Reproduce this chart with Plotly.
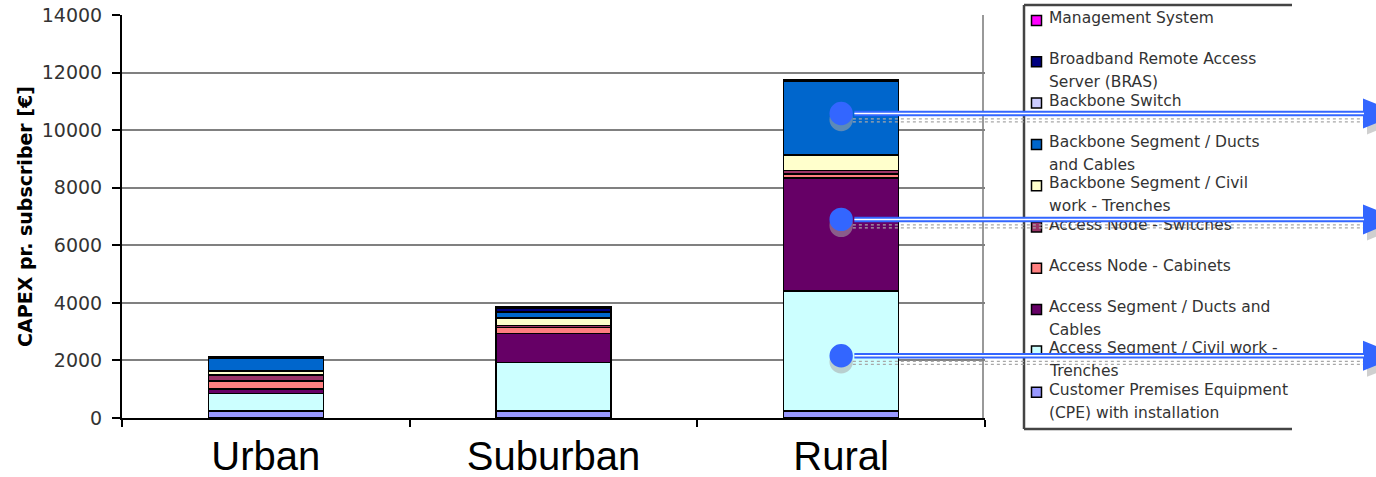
import plotly.graph_objects as go

# ---------------------------------------------------------------------------
# Data: CAPEX per subscriber (EUR) by deployment area, stacked bottom -> top
# ---------------------------------------------------------------------------
regions = ["Urban", "Suburban", "Rural"]

components = [
    "Customer Premises Equipment<br>(CPE) with installation",
    "Access Segment / Civil work -<br>Trenches",
    "Access Segment / Ducts and<br>Cables",
    "Access Node - Cabinets",
    "Access Node - Switches",
    "Backbone Segment / Civil<br>work - Trenches",
    "Backbone Segment / Ducts<br>and Cables",
    "Backbone Switch",
    "Broadband Remote Access<br>Server (BRAS)",
    "Management System",
]

cpe = [250, 250, 250]
access_civil = [600, 1680, 4170]
access_ducts = [160, 1000, 3920]
node_cabinets = [280, 220, 140]
node_switches = [200, 60, 110]
backbone_civil = [150, 260, 540]
backbone_ducts = [450, 200, 2560]
backbone_switch = [10, 30, 20]
bras = [10, 120, 20]
management = [10, 30, 20]

series = [cpe, access_civil, access_ducts, node_cabinets, node_switches,
          backbone_civil, backbone_ducts, backbone_switch, bras, management]

colors = ["#9999FF", "#CCFFFF", "#660066", "#FF8080", "#993366",
          "#FFFFCC", "#0066CC", "#CCCCFF", "#000080", "#FF00FF"]

y_ticks = [0, 2000, 4000, 6000, 8000, 10000, 12000, 14000]
y_tick_labels = ["0", "2000", "4000", "6000", "8000", "10000", "12000", "14000"]
y_max = 14000

# levels (EUR) inside the rural bar where the call-out arrows start
callout_levels = [10580, 6900, 2160]

# ---------------------------------------------------------------------------
# Geometry helpers (figure pixels -> paper coordinates)
# ---------------------------------------------------------------------------
W, H = 1376, 477
PL, PR, PT, PB = 122, 985, 15, 418


def px_x(p):
    return (p - PL) / (PR - PL)


def px_y(p):
    return (PB - p) / (PB - PT)


def dx(p):
    return p / (PR - PL)


def dy(p):
    return p / (PB - PT)


TEXT = "#333333"
FONT = "DejaVu Sans"

fig = go.Figure()
for name, vals, col in zip(components, series, colors):
    fig.add_trace(go.Bar(
        x=regions, y=vals, name=name.replace("<br>", " "),
        marker=dict(color=col, line=dict(color="black", width=1.5)),
        width=0.4, showlegend=False,
    ))

shapes = []
annotations = []

# right frame of the plot area
shapes.append(dict(type="line", xref="paper", yref="paper", x0=px_x(983), x1=px_x(983), y0=0, y1=1,
                   line=dict(color="#777777", width=1.5), layer="below"))

# ---------------------------------------------------------------------------
# Legend box (drawn by hand so the wrapped labels keep their spacing)
# ---------------------------------------------------------------------------
box_l, box_r, box_t, box_b = 1024, 1292, 5, 429
for (x0, y0, x1, y1) in [(box_l, box_t, box_r, box_t), (box_l, box_t, box_l, box_b),
                         (box_l, box_b, box_r, box_b)]:
    shapes.append(dict(type="line", xref="paper", yref="paper",
                       x0=px_x(x0), y0=px_y(y0), x1=px_x(x1), y1=px_y(y1),
                       line=dict(color="#444444", width=2.5)))

legend_top = 18.0
legend_pitch = 41.3
line_gap = 23.0
order = list(range(len(components)))[::-1]
for i, idx in enumerate(order):
    yc = legend_top + i * legend_pitch
    sy = yc + 2.5
    shapes.append(dict(type="rect", xref="paper", yref="paper",
                       x0=px_x(1031.5), x1=px_x(1041.5), y0=px_y(sy - 5), y1=px_y(sy + 5),
                       fillcolor=colors[idx], line=dict(color="black", width=1.5)))
    for j, line in enumerate(components[idx].split("<br>")):
        annotations.append(dict(
            text=line, xref="paper", yref="paper", x=px_x(1047), y=px_y(yc + j * line_gap),
            xanchor="left", yanchor="middle", showarrow=False,
            font=dict(family=FONT, size=15.5, color=TEXT),
        ))

# ---------------------------------------------------------------------------
# Call-out arrows leaving the rural bar
# ---------------------------------------------------------------------------
BLUE = "#3366FF"
SHADOW = "#a8a8a8"
cx = (regions.index("Rural") + 0.5) / len(regions)   # category centre in paper units
r = 11.7
end_px = 1363
head_len, head_half = 37, 15
for lvl in callout_levels:
    cy = lvl / y_max
    x_end = px_x(end_px)
    # drop shadow
    shapes.append(dict(type="circle", xref="paper", yref="paper",
                       x0=cx - dx(r), x1=cx + dx(r), y0=cy - dy(r + 6), y1=cy + dy(r - 6),
                       fillcolor=SHADOW, opacity=0.55, line=dict(width=0)))
    for off in (5.5, 8.5):
        shapes.append(dict(type="line", xref="paper", yref="paper",
                           x0=cx + dx(r), x1=x_end + dx(4), y0=cy - dy(off), y1=cy - dy(off),
                           line=dict(color=SHADOW, width=1.2, dash="dot")))
    shapes.append(dict(type="path", xref="paper", yref="paper",
                       path=(f"M{x_end + dx(4)},{cy + dy(head_half) - dy(6)} "
                             f"L{x_end + dx(4 + head_len)},{cy - dy(6)} "
                             f"L{x_end + dx(4)},{cy - dy(head_half) - dy(6)} Z"),
                       fillcolor=SHADOW, opacity=0.55, line=dict(width=0)))
    # blue dot
    shapes.append(dict(type="circle", xref="paper", yref="paper",
                       x0=cx - dx(r), x1=cx + dx(r), y0=cy - dy(r), y1=cy + dy(r),
                       fillcolor=BLUE, line=dict(width=0)))
    # arrow head
    shapes.append(dict(type="path", xref="paper", yref="paper",
                       path=(f"M{x_end},{cy + dy(head_half)} L{x_end + dx(head_len)},{cy} "
                             f"L{x_end},{cy - dy(head_half)} Z"),
                       fillcolor=BLUE, line=dict(width=0)))
    # double shaft (drawn as annotation arrows so it sits over the legend text)
    shaft_len = end_px - (PL + cx * (PR - PL) + r - 1)
    for width, col in ((5.5, BLUE), (1.5, "white")):
        annotations.append(dict(
            text=" ", xref="paper", yref="paper", x=x_end + dx(1), y=cy,
            ax=-shaft_len, ay=0, showarrow=True, arrowhead=0, arrowwidth=width,
            arrowcolor=col, standoff=0, startstandoff=0, font=dict(size=1),
        ))

fig.update_layout(
    width=W, height=H,
    margin=dict(l=PL, r=W - PR, t=PT, b=H - PB, autoexpand=False),
    paper_bgcolor="white", plot_bgcolor="white",
    barmode="stack",
    showlegend=False,
    font=dict(family=FONT, color=TEXT),
    shapes=shapes,
    annotations=annotations,
    xaxis=dict(
        showline=True, linecolor="black", linewidth=2,
        ticks="outside", tickson="boundaries", ticklen=7, tickwidth=1.5, tickcolor="black",
        tickfont=dict(family="Liberation Sans", size=40, color="black"),
        ticklabelstandoff=2,
        showgrid=False, range=[-0.5, 2.5], fixedrange=True,
    ),
    yaxis=dict(
        range=[0, y_max], tickvals=y_ticks, ticktext=y_tick_labels,
        showline=True, linecolor="black", linewidth=2,
        ticks="outside", ticklen=8, tickwidth=1.5, tickcolor="black",
        tickfont=dict(family=FONT, size=19, color=TEXT),
        ticklabelstandoff=6,
        showgrid=True, gridcolor="#808080", gridwidth=1.5, zeroline=False,
        title=dict(text="CAPEX pr. subscriber [€]", standoff=4,
                   font=dict(family=FONT, size=19, color="black", weight="bold")),
    ),
)

fig.write_html("out.html")
